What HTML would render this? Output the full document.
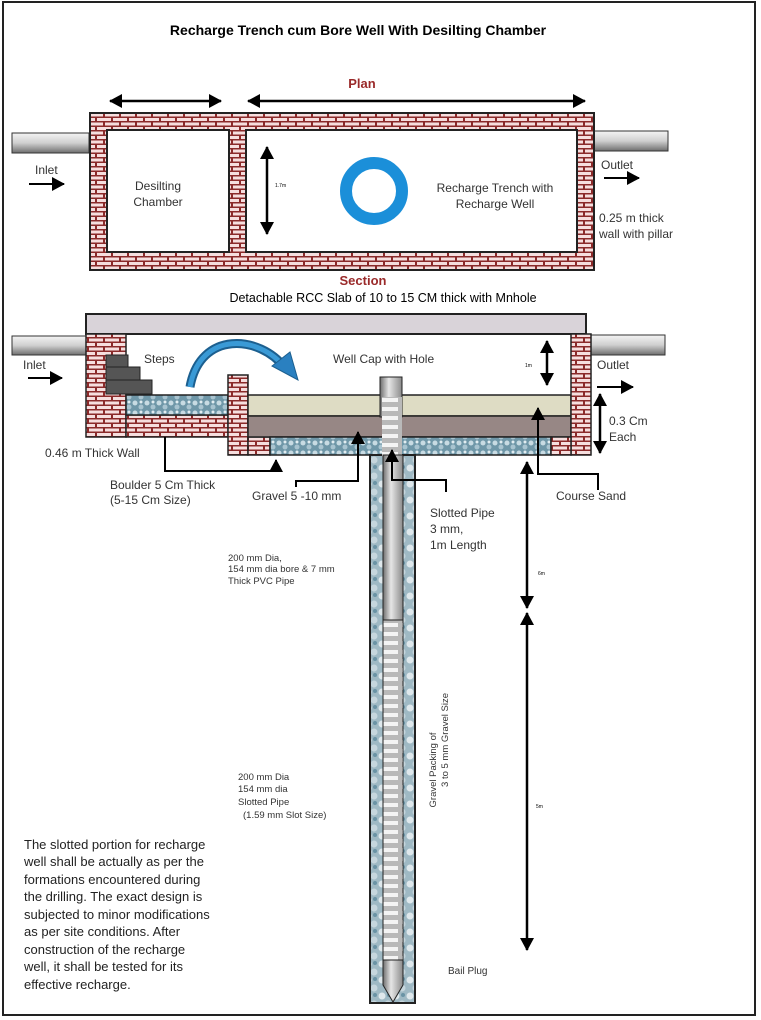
<!DOCTYPE html>
<html><head><meta charset="utf-8"><style>
html,body{margin:0;padding:0;background:#fff}
svg{display:block;font-family:"Liberation Sans",sans-serif}
</style></head><body>
<svg width="761" height="1020" viewBox="0 0 761 1020" xmlns="http://www.w3.org/2000/svg">
<defs>
<pattern id="brick" width="16" height="9" patternUnits="userSpaceOnUse">
<rect width="16" height="9" fill="#8b2a2a"/>
<rect x="1" y="1" width="14" height="3" fill="#f6dede"/>
<rect x="-7" y="5.5" width="14" height="3" fill="#f6dede"/>
<rect x="9" y="5.5" width="14" height="3" fill="#f6dede"/>
</pattern>
<pattern id="grav" width="12" height="10" patternUnits="userSpaceOnUse">
<rect width="12" height="10" fill="#6f97a8"/>
<circle cx="3" cy="3" r="2.5" fill="#c8dbe3"/><circle cx="9" cy="7" r="2.5" fill="#a9c4d0"/><circle cx="9" cy="2" r="1.5" fill="#e2edf1"/>
</pattern>
<pattern id="bore" width="14" height="16" patternUnits="userSpaceOnUse">
<rect width="14" height="16" fill="#9fb9c4"/>
<circle cx="4" cy="4" r="3.5" fill="#dfe8ec"/><circle cx="10" cy="12" r="3.5" fill="#c6d6dd"/><circle cx="11" cy="3" r="2" fill="#6a93a5"/>
</pattern>
<pattern id="slot" width="20" height="9" patternUnits="userSpaceOnUse">
<rect width="20" height="9" fill="#b9b9b9"/>
<rect x="2" y="2" width="16" height="4" fill="#f4f4f4"/>
</pattern>
<linearGradient id="pipe" x1="0" y1="0" x2="0" y2="1"><stop offset="0" stop-color="#f4f4f4"/><stop offset=".5" stop-color="#cfcfcf"/><stop offset="1" stop-color="#6e6e6e"/></linearGradient>
<linearGradient id="vpipe" x1="0" y1="0" x2="1" y2="0"><stop offset="0" stop-color="#6e6e6e"/><stop offset=".4" stop-color="#e6e6e6"/><stop offset="1" stop-color="#8a8a8a"/></linearGradient>
<marker id="ah" markerWidth="8" markerHeight="8" refX="7" refY="4" orient="auto" markerUnits="userSpaceOnUse"><path d="M0,0 L8,4 L0,8z" fill="#000"/></marker>
<marker id="ahs" markerWidth="14" markerHeight="14" refX="12" refY="7" orient="auto-start-reverse" markerUnits="userSpaceOnUse"><path d="M0,0 L13,7 L0,14z" fill="#000"/></marker>
</defs>
<rect x="3" y="2" width="752" height="1013" fill="none" stroke="#222" stroke-width="2"/>
<text x="358" y="35" font-size="14" font-weight="bold" text-anchor="middle">Recharge Trench cum Bore Well With Desilting Chamber</text>
<text x="362" y="88" font-size="13" font-weight="bold" fill="#9a2a2a" text-anchor="middle">Plan</text>
<!-- plan dims -->
<line x1="110" y1="101" x2="221" y2="101" stroke="#000" stroke-width="2.5" marker-start="url(#ahs)" marker-end="url(#ahs)"/>
<line x1="248" y1="101" x2="585" y2="101" stroke="#000" stroke-width="2.5" marker-start="url(#ahs)" marker-end="url(#ahs)"/>
<!-- plan pipes -->
<rect x="12" y="133" width="77" height="20" fill="url(#pipe)" stroke="#333"/>
<rect x="594" y="131" width="74" height="20" fill="url(#pipe)" stroke="#333"/>
<!-- plan box -->
<rect x="90" y="113" width="504" height="157" fill="url(#brick)" stroke="#222" stroke-width="2"/>
<rect x="107" y="130" width="122" height="122" fill="#fff" stroke="#222" stroke-width="2"/>
<rect x="246" y="130" width="331" height="122" fill="#fff" stroke="#222" stroke-width="2"/>
<line x1="267" y1="147" x2="267" y2="234" stroke="#000" stroke-width="2.5" marker-start="url(#ahs)" marker-end="url(#ahs)"/>
<text x="275" y="187" font-size="5">1.7m</text>
<circle cx="374" cy="191" r="28" fill="none" stroke="#1b8fd9" stroke-width="12"/>
<text x="158" y="190" font-size="12" fill="#333" text-anchor="middle">Desilting</text>
<text x="158" y="206" font-size="12" fill="#333" text-anchor="middle">Chamber</text>
<text x="495" y="192" font-size="12" fill="#333" text-anchor="middle">Recharge Trench with</text>
<text x="495" y="208" font-size="12" fill="#333" text-anchor="middle">Recharge Well</text>
<text x="35" y="174" font-size="12" fill="#333">Inlet</text>
<line x1="29" y1="184" x2="64" y2="184" stroke="#000" stroke-width="2" marker-end="url(#ahs)"/>
<text x="601" y="169" font-size="12" fill="#333">Outlet</text>
<line x1="604" y1="178" x2="639" y2="178" stroke="#000" stroke-width="2" marker-end="url(#ahs)"/>
<text x="599" y="222" font-size="12" fill="#333">0.25 m thick</text>
<text x="599" y="238" font-size="12" fill="#333">wall with pillar</text>
<text x="363" y="285" font-size="13" font-weight="bold" fill="#9a2a2a" text-anchor="middle">Section</text>
<text x="383" y="302" font-size="12.5" text-anchor="middle">Detachable RCC Slab of 10 to 15 CM thick with Mnhole</text>
<!-- section -->
<rect x="12" y="336" width="74" height="19" fill="url(#pipe)" stroke="#333"/>
<rect x="591" y="335" width="74" height="20" fill="url(#pipe)" stroke="#333"/>
<rect x="86" y="314" width="500" height="20" fill="#d9d3d9" stroke="#222" stroke-width="2"/>
<rect x="86" y="334" width="40" height="103" fill="url(#brick)" stroke="#222" stroke-width="1.5"/>
<rect x="126" y="415" width="102" height="22" fill="url(#brick)" stroke="#222" stroke-width="1.5"/>
<rect x="126" y="395" width="102" height="20" fill="url(#grav)" stroke="#222" stroke-width="1.5"/>
<g fill="#555" stroke="#222"><rect x="106" y="355" width="22" height="12"/><rect x="106" y="367" width="34" height="13"/><rect x="106" y="380" width="46" height="14"/></g>
<rect x="228" y="375" width="20" height="80" fill="url(#brick)" stroke="#222" stroke-width="1.5"/>
<rect x="248" y="437" width="22" height="18" fill="url(#brick)" stroke="#222" stroke-width="1.5"/>
<rect x="248" y="395" width="323" height="21" fill="#dedcc4" stroke="#222" stroke-width="1.5"/>
<rect x="248" y="416" width="323" height="21" fill="#978785" stroke="#222" stroke-width="1.5"/>
<rect x="270" y="437" width="281" height="18" fill="url(#grav)" stroke="#222" stroke-width="1.5"/>
<rect x="571" y="334" width="20" height="121" fill="url(#brick)" stroke="#222" stroke-width="1.5"/>
<rect x="551" y="437" width="20" height="18" fill="url(#brick)" stroke="#222" stroke-width="1.5"/>
<!-- blue arrow -->
<path d="M190,387 C200,330 260,335 285,368" fill="none" stroke="#1c5f8f" stroke-width="9"/>
<path d="M190,387 C200,330 260,335 285,368" fill="none" stroke="#3a9ad6" stroke-width="5"/>
<path d="M272,366 L298,380 L290,352z" fill="#2a80c0" stroke="#1c5f8f"/>
<!-- borehole -->
<rect x="370" y="455" width="45" height="548" fill="url(#bore)" stroke="#222" stroke-width="2"/>
<rect x="380" y="377" width="22" height="40" fill="url(#vpipe)" stroke="#222"/>
<rect x="382" y="397" width="20" height="60" fill="url(#slot)"/>
<rect x="383" y="455" width="20" height="165" fill="url(#vpipe)" stroke="#222"/>
<rect x="383" y="620" width="20" height="340" fill="url(#slot)" stroke="#222"/>
<path d="M383,960 L403,960 L403,985 L393,1002 L383,985z" fill="url(#vpipe)" stroke="#222"/>
<!-- dims section -->
<line x1="547" y1="341" x2="547" y2="385" stroke="#000" stroke-width="2.5" marker-start="url(#ahs)" marker-end="url(#ahs)"/>
<text x="525" y="367" font-size="5">1m</text>
<line x1="600" y1="394" x2="600" y2="453" stroke="#000" stroke-width="2.5" marker-start="url(#ahs)" marker-end="url(#ahs)"/>
<text x="609" y="425" font-size="12" fill="#333">0.3 Cm</text>
<text x="609" y="441" font-size="12" fill="#333">Each</text>
<line x1="527" y1="462" x2="527" y2="608" stroke="#000" stroke-width="2.5" marker-start="url(#ahs)" marker-end="url(#ahs)"/>
<line x1="527" y1="613" x2="527" y2="950" stroke="#000" stroke-width="2.5" marker-start="url(#ahs)" marker-end="url(#ahs)"/>
<text x="538" y="575" font-size="5">6m</text>
<text x="536" y="808" font-size="5">5m</text>
<text x="23" y="369" font-size="12" fill="#333">Inlet</text>
<line x1="28" y1="378" x2="62" y2="378" stroke="#000" stroke-width="2" marker-end="url(#ahs)"/>
<text x="597" y="369" font-size="12" fill="#333">Outlet</text>
<line x1="597" y1="387" x2="633" y2="387" stroke="#000" stroke-width="2" marker-end="url(#ahs)"/>
<text x="144" y="363" font-size="12" fill="#333">Steps</text>
<text x="333" y="363" font-size="12" fill="#333">Well Cap with Hole</text>
<text x="45" y="457" font-size="12" fill="#333">0.46 m Thick Wall</text>
<!-- leaders -->
<g fill="none" stroke="#000" stroke-width="2">
<polyline points="165,437 165,471 276,471 276,460" marker-end="url(#ahs)"/>
<polyline points="296,487 296,481 358,481 358,432" marker-end="url(#ahs)"/>
<polyline points="446,492 446,480 392,480 392,450" marker-end="url(#ahs)"/>
<polyline points="598,490 598,474 538,474 538,408" marker-end="url(#ahs)"/>
</g>
<text x="110" y="489" font-size="12" fill="#333">Boulder 5 Cm Thick</text>
<text x="110" y="504" font-size="12" fill="#333">(5-15 Cm Size)</text>
<text x="252" y="500" font-size="12" fill="#333">Gravel 5 -10 mm</text>
<text x="430" y="517" font-size="12" fill="#333">Slotted Pipe</text>
<text x="430" y="533" font-size="12" fill="#333">3 mm,</text>
<text x="430" y="549" font-size="12" fill="#333">1m Length</text>
<text x="556" y="500" font-size="12" fill="#333">Course Sand</text>
<text x="228" y="561" font-size="9.5" fill="#333">200 mm Dia,</text>
<text x="228" y="572" font-size="9.5" fill="#333">154 mm dia bore &amp; 7 mm</text>
<text x="228" y="584" font-size="9.5" fill="#333">Thick PVC Pipe</text>
<text x="238" y="780" font-size="9.5" fill="#333">200 mm Dia</text>
<text x="238" y="792" font-size="9.5" fill="#333">154 mm dia</text>
<text x="238" y="805" font-size="9.5" fill="#333">Slotted Pipe</text>
<text x="243" y="818" font-size="9.5" fill="#333">(1.59 mm Slot Size)</text>
<text transform="translate(436,770) rotate(-90)" font-size="9.5" fill="#333" text-anchor="middle">Gravel Packing of</text>
<text transform="translate(448,740) rotate(-90)" font-size="9.5" fill="#333" text-anchor="middle">3 to 5 mm  Gravel Size</text>
<text x="448" y="974" font-size="10" fill="#333">Bail Plug</text>
<g font-size="13" fill="#222">
<text x="24" y="849">The slotted portion for recharge</text>
<text x="24" y="866">well shall be actually as per the</text>
<text x="24" y="884">formations encountered during</text>
<text x="24" y="901">the drilling. The exact design is</text>
<text x="24" y="919">subjected to minor modifications</text>
<text x="24" y="936">as per site conditions. After</text>
<text x="24" y="954">construction of the recharge</text>
<text x="24" y="971">well, it shall be tested for its</text>
<text x="24" y="989">effective recharge.</text>
</g>
</svg>
</body></html>
